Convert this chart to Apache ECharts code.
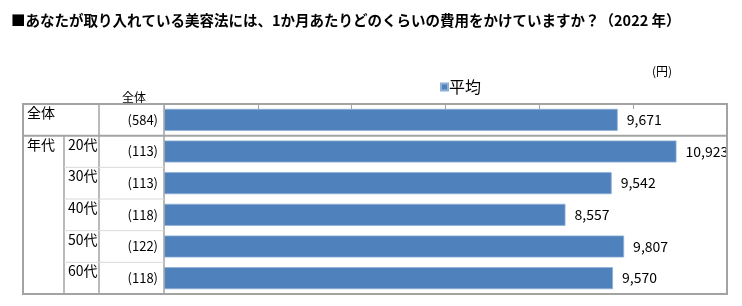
<!DOCTYPE html>
<html>
<head>
<meta charset="utf-8">
<script src="https://cdn.jsdelivr.net/npm/echarts@6/dist/echarts.min.js"></script>
<style>html,body{margin:0;padding:0;background:#fff;}#c{width:742px;height:306px;}</style>
</head>
<body>
<div id="c"></div>
<script>
// ---- data ----
const titleText = '■あなたが取り入れている美容法には、1か月あたりどのくらいの費用をかけていますか？（2022 年）';
const unitText = '(円)';
const headerText = '全体';
const seriesName = '平均';
const segments = ['全体', '年代', '年代', '年代', '年代', '年代'];
const subgroups = ['', '20代', '30代', '40代', '50代', '60代'];
const counts = ['(584)', '(113)', '(113)', '(118)', '(122)', '(118)'];
const values = [9671, 10923, 9542, 8557, 9807, 9570];
const xMin = 0, xMax = 12000, xStep = 2000;

// ---- layout ----
const W = 742, H = 306;
const T = 104, B = 294, L = 23, R = 727, P = 164, C1 = 64, C2 = 99;
const rowH = (B - T) / values.length;
const FONT = '"Noto Sans CJK JP", "Noto Sans", sans-serif';
const border = '#a3a3a3', light = '#d9d9d9';

const chart = echarts.init(document.getElementById('c'), null, {renderer: 'canvas'});

const segLabels = segments.map((s, i) => (i === 0 || segments[i - 1] !== s) ? s : '');

const graphics = [];
// outer border
graphics.push({type: 'rect', shape: {x: L, y: T, width: R - L, height: B - T}, style: {fill: 'none', stroke: border, lineWidth: 2}, z: 10});
// divider between first row and the rest
segments.forEach((s, i) => {
  if (i > 0 && segments[i - 1] !== s) {
    const y = T + rowH * i;
    graphics.push({type: 'line', shape: {x1: L, y1: y, x2: R, y2: y}, style: {stroke: border, lineWidth: 2}, z: 10});
  }
});
// column lines
graphics.push({type: 'line', shape: {x1: C2, y1: T, x2: C2, y2: B}, style: {stroke: border, lineWidth: 1.5}, z: 10});
graphics.push({type: 'line', shape: {x1: P, y1: T, x2: P, y2: B}, style: {stroke: border, lineWidth: 1.5}, z: 10});
const firstSub = subgroups.findIndex(s => s !== '');
graphics.push({type: 'line', shape: {x1: C1, y1: T + rowH * firstSub, x2: C1, y2: B}, style: {stroke: border, lineWidth: 1.5}, z: 10});
// light row separators within sub-groups
subgroups.forEach((s, i) => {
  if (i > firstSub) {
    const y = T + rowH * i;
    graphics.push({type: 'line', shape: {x1: C1, y1: y, x2: P, y2: y}, style: {stroke: light, lineWidth: 1}, z: 10});
  }
});

const catAxisBase = {
  type: 'category', inverse: true, gridIndex: 0, position: 'left',
  axisLine: {show: false}, axisTick: {show: false}, splitLine: {show: false}
};

chart.setOption({
  animation: false,
  backgroundColor: '#fff',
  title: [
    {text: titleText, left: 6, top: 8, textStyle: {fontFamily: FONT, fontSize: 14.5, fontWeight: 'bold', color: '#000'}},
    {text: unitText, left: 647, top: 60, textStyle: {fontFamily: FONT, fontSize: 12, fontWeight: 'normal', color: '#000'}},
    {text: headerText, left: 117, top: 86, textStyle: {fontFamily: FONT, fontSize: 12, fontWeight: 'normal', color: '#000'}}
  ],
  legend: {
    data: [seriesName], left: 435, top: 74, icon: 'rect', itemWidth: 7, itemHeight: 7,
    textStyle: {fontFamily: FONT, fontSize: 16, color: '#000', padding: [0, 0, 0, -4]}
  },
  grid: {left: P, right: W - R, top: T, bottom: H - B, containLabel: false},
  xAxis: {
    type: 'value', position: 'top', min: xMin, max: xMax, interval: xStep,
    axisLine: {show: false},
    axisTick: {show: true, inside: true, length: 5, lineStyle: {color: border}},
    axisLabel: {show: false}, splitLine: {show: false}
  },
  yAxis: [
    Object.assign({}, catAxisBase, {
      data: counts,
      axisLabel: {margin: 6, fontFamily: FONT, fontSize: 13, color: '#000', padding: [3, 0, 0, 0]}
    }),
    Object.assign({}, catAxisBase, {
      data: subgroups, offset: P - C1,
      axisLabel: {margin: -4, align: 'left', verticalAlign: 'bottom', fontFamily: FONT, fontSize: 14, color: '#000', padding: [0, 0, 0, 0]}
    }),
    Object.assign({}, catAxisBase, {
      data: segLabels, offset: P - L,
      axisLabel: {margin: -4, align: 'left', verticalAlign: 'bottom', fontFamily: FONT, fontSize: 14, color: '#000', padding: [0, 0, 0, 0]}
    })
  ],
  series: [{
    name: seriesName, type: 'bar', yAxisIndex: 0, data: values, barWidth: 22,
    itemStyle: {color: '#4f81bd', borderColor: '#8fb0d6', borderWidth: 0.8},
    label: {
      show: true, position: 'right', distance: 9, fontFamily: FONT, fontSize: 14, color: '#000',
      formatter: p => p.value.toLocaleString('en-US')
    }
  }],
  graphic: graphics
});
</script>
</body>
</html>
